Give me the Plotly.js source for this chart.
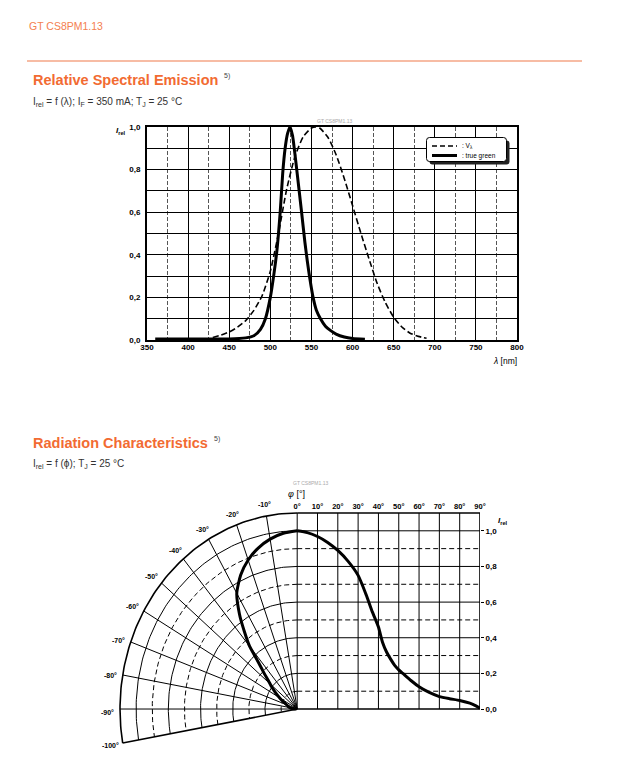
<!DOCTYPE html>
<html><head><meta charset="utf-8">
<script src="https://cdn.plot.ly/plotly-3.0.1.min.js"></script>
<style>body{margin:0;background:#fff}#chart{width:622px;height:763px}</style>
</head><body><div id="chart"></div>
<script>
// ---- Relative spectral emission data ----
const lambdaGreen = [360,400,450,470,480,488,494,500,504,508,512,515,518,521,524,527,530,533,538,542,545,548,552,556,561,567,573,580,590,600,615];
const relGreen    = [0.005,0.005,0.005,0.01,0.02,0.05,0.1,0.2,0.3,0.42,0.6,0.78,0.9,0.97,1.0,0.96,0.87,0.77,0.6,0.46,0.37,0.29,0.2,0.14,0.1,0.065,0.045,0.028,0.014,0.007,0.003];
const lambdaV = [430,440,450,460,470,480,490,500,510,520,530,540,550,555,560,570,580,590,600,610,620,630,640,650,660,670,680,690];
const relV    = [0.0116,0.023,0.038,0.06,0.091,0.139,0.208,0.323,0.503,0.71,0.862,0.954,0.995,1.0,0.995,0.952,0.87,0.757,0.631,0.503,0.381,0.265,0.175,0.107,0.061,0.032,0.017,0.008];
const specXTicks = [350,400,450,500,550,600,650,700,750,800];
const specYTicks = [0,0.2,0.4,0.6,0.8,1.0];
const legendNames = [': V<sub>λ</sub>', ': true green'];

// ---- Radiation characteristics data ----
const phiDeg = [0,5,10,15,20,25,30,34,37,40,42,44,46,48,50,52,56,60,65,70,75,80,85,88,90];
const relPhi = [1.0,0.99,0.968,0.935,0.89,0.83,0.75,0.64,0.545,0.46,0.375,0.32,0.28,0.245,0.22,0.2,0.16,0.125,0.093,0.07,0.058,0.048,0.033,0.018,0.004];
const phiTopTicks = [0,10,20,30,40,50,60,70,80,90];
const phiTopLabels = ['0°','10°','20°','30°','40°','50°','60°','70°','80°','90°'];
const polarAngles = [-10,-20,-30,-40,-50,-60,-70,-80,-90,-100];
const polarLabels = ['-10°','-20°','-30°','-40°','-50°','-60°','-70°','-80°','-90°','-100°'];
const relTicks = [0,0.2,0.4,0.6,0.8,1.0];
const relTickText = ['0,0','0,2','0,4','0,6','0,8','1,0'];

const W = 622, H = 763;
const px = p => p / W, py = p => (H - p) / H;
const ORANGE = '#F26B32';
const K = 79.3;     // horizontal polar scale (x2 units per unit radius)
const ROUT = 1.1;

function pol(r, a) { const t = a * Math.PI / 180; return [K * r * Math.sin(t), r * Math.cos(t)]; }
function arc(r, a0, a1, X, Y) { for (let a = a0; a >= a1; a -= 1) { const p = pol(r, a); X.push(p[0]); Y.push(p[1]); } X.push(null); Y.push(null); }
function seg(x0, y0, x1, y1, X, Y) { X.push(x0, x1, null); Y.push(y0, y1, null); }

const sX = [], sY = [], dX = [], dY = [], bX = [], bY = [];
for (let i = 1; i <= 10; i++) {
  const r = i / 10;
  if (i % 2 === 0) { arc(r, 0, -100, sX, sY); seg(0, r, 90, r, sX, sY); }
  else { arc(r, 0, -100, dX, dY); seg(0, r, 90, r, dX, dY); }
}
polarAngles.slice(0, 9).forEach(a => { const p = pol(ROUT, a); seg(0, 0, p[0], p[1], sX, sY); });
phiTopTicks.slice(0, 9).forEach(v => seg(v, 0, v, ROUT, sX, sY));
arc(ROUT, 0, -100, bX, bY);
{ const p = pol(ROUT, -100); seg(0, 0, p[0], p[1], bX, bY); }
seg(0, ROUT, 90, ROUT, bX, bY);
seg(90, 0, 90, ROUT, bX, bY);
seg(0, 0, 90, 0, bX, bY);

const polX = phiDeg.map((a, i) => pol(relPhi[i], -a)[0]);
const polY = phiDeg.map((a, i) => pol(relPhi[i], -a)[1]);

const FAM = 'Liberation Sans, Arial, sans-serif';
const tickFont = {family: FAM, size: 8, color: '#000', weight: 'bold'};

const traces = [
  {x: lambdaV, y: relV, type: 'scatter', mode: 'lines', name: legendNames[0], line: {color: '#000', width: 1.6, dash: '6px,3px', shape: 'spline', smoothing: 0.6}, xaxis: 'x', yaxis: 'y'},
  {x: lambdaGreen, y: relGreen, type: 'scatter', mode: 'lines', name: legendNames[1], line: {color: '#000', width: 3, shape: 'spline', smoothing: 0.6}, xaxis: 'x', yaxis: 'y'},
  {x: sX, y: sY, type: 'scatter', mode: 'lines', line: {color: '#000', width: 1}, hoverinfo: 'skip', xaxis: 'x2', yaxis: 'y2'},
  {x: dX, y: dY, type: 'scatter', mode: 'lines', line: {color: '#000', width: 1, dash: '5px,3px'}, hoverinfo: 'skip', xaxis: 'x2', yaxis: 'y2'},
  {x: bX, y: bY, type: 'scatter', mode: 'lines', line: {color: '#000', width: 1.6}, hoverinfo: 'skip', xaxis: 'x2', yaxis: 'y2'},
  {x: phiDeg, y: relPhi, type: 'scatter', mode: 'lines', line: {color: '#000', width: 3, shape: 'spline', smoothing: 0.6}, xaxis: 'x2', yaxis: 'y2'},
  {x: polX, y: polY, type: 'scatter', mode: 'lines', line: {color: '#000', width: 3, shape: 'spline', smoothing: 0.6}, xaxis: 'x2', yaxis: 'y2'}
];

const annotations = [
  {text: 'GT CS8PM1.13', x: px(27), y: py(26), xanchor: 'left', yanchor: 'middle', font: {size: 10.5, color: '#F4804F', family: FAM}},
  {text: '<b>Relative Spectral Emission</b>', x: px(31), y: py(80), xanchor: 'left', yanchor: 'middle', font: {size: 14.5, color: ORANGE, family: FAM}},
  {text: '5)', x: px(222), y: py(76), xanchor: 'left', yanchor: 'middle', font: {size: 7, color: '#444', family: FAM}},
  {text: 'I<sub>rel</sub> = f (λ); I<sub>F</sub> = 350 mA; T<sub>J</sub> = 25 °C', x: px(31), y: py(102), xanchor: 'left', yanchor: 'middle', font: {size: 10, color: '#333', family: FAM}},
  {text: '<b>Radiation Characteristics</b>', x: px(31), y: py(443), xanchor: 'left', yanchor: 'middle', font: {size: 14.5, color: ORANGE, family: FAM}},
  {text: '5)', x: px(212), y: py(439), xanchor: 'left', yanchor: 'middle', font: {size: 7, color: '#444', family: FAM}},
  {text: 'I<sub>rel</sub> = f (ϕ); T<sub>J</sub> = 25 °C', x: px(31), y: py(464), xanchor: 'left', yanchor: 'middle', font: {size: 10, color: '#333', family: FAM}},
  {text: 'GT CS8PM1.13', x: px(335), y: py(121), xanchor: 'center', yanchor: 'middle', font: {size: 5, color: '#aaa', family: FAM}},
  {text: 'GT CS8PM1.13', x: px(310), y: py(483), xanchor: 'center', yanchor: 'middle', font: {size: 5, color: '#aaa', family: FAM}},
  {text: '<b><i>I</i></b><sub><b>rel</b></sub>', x: px(121), y: py(131), xanchor: 'center', yanchor: 'middle', font: {size: 8, color: '#000', family: FAM}},
  {text: '<i>λ</i> [nm]', x: px(505), y: py(361), xanchor: 'center', yanchor: 'middle', font: {size: 8.5, color: '#000', family: FAM}},
  {text: '<i>φ</i> [°]', x: px(296), y: py(494), xanchor: 'center', yanchor: 'middle', font: {size: 9, color: '#000', family: FAM}},
  {text: '<b><i>I</i></b><sub><b>rel</b></sub>', x: px(503), y: py(521), xanchor: 'center', yanchor: 'middle', font: {size: 8, color: '#000', family: FAM}},
  {text: legendNames[0], x: px(460), y: py(146), xanchor: 'left', yanchor: 'middle', font: {size: 6.5, color: '#000', family: FAM}},
  {text: legendNames[1], x: px(460), y: py(155.5), xanchor: 'left', yanchor: 'middle', font: {size: 6.5, color: '#000', family: FAM}}
];
polarAngles.forEach((a, i) => {
  const p = pol(1.18, a);
  annotations.push({text: '<b>' + polarLabels[i] + '</b>', x: p[0], y: p[1], xref: 'x2', yref: 'y2', xanchor: 'center', yanchor: 'middle', yshift: a > -95 ? -3 : 0, showarrow: false, font: {size: 7, color: '#000', family: FAM}});
});
annotations.forEach(a => { if (!a.xref) { a.xref = 'paper'; a.yref = 'paper'; a.showarrow = false; } });

function roundRect(x0, y0, x1, y1, r) {
  const P = (x, y) => px(x) + ',' + py(y);
  return 'M' + P(x0 + r, y0) + ' L' + P(x1 - r, y0) + ' Q' + P(x1, y0) + ' ' + P(x1, y0 + r) +
         ' L' + P(x1, y1 - r) + ' Q' + P(x1, y1) + ' ' + P(x1 - r, y1) +
         ' L' + P(x0 + r, y1) + ' Q' + P(x0, y1) + ' ' + P(x0, y1 - r) +
         ' L' + P(x0, y0 + r) + ' Q' + P(x0, y0) + ' ' + P(x0 + r, y0) + ' Z';
}

const layout = {
  width: W, height: H, margin: {l: 0, r: 0, t: 0, b: 0},
  paper_bgcolor: '#fff', plot_bgcolor: 'rgba(0,0,0,0)',
  separators: ',.',
  showlegend: false,
  xaxis: {domain: [px(147), px(517)], range: [350, 800], anchor: 'y', tickvals: specXTicks, showgrid: true, gridcolor: '#000', gridwidth: 1,
          minor: {dtick: 25, tick0: 350, showgrid: true, gridcolor: '#555', gridwidth: 1, griddash: '4px,2px'},
          showline: true, mirror: true, linecolor: '#000', linewidth: 2, ticks: '', zeroline: false, tickfont: tickFont, ticklabelstandoff: -2},
  yaxis: {domain: [py(340), py(127)], range: [0, 1], anchor: 'x', tickvals: specYTicks, tickformat: '.1f', showgrid: true, gridcolor: '#000', gridwidth: 1,
          minor: {dtick: 0.1, tick0: 0, showgrid: true, gridcolor: '#000', gridwidth: 1},
          showline: true, mirror: true, linecolor: '#000', linewidth: 2, ticks: '', zeroline: false, tickfont: tickFont, ticklabelstandoff: 3},
  xaxis2: {domain: [px(90), px(480)], range: [-102, 90], anchor: 'free', position: py(513), side: 'top', tickvals: phiTopTicks, ticktext: phiTopLabels,
           showgrid: false, zeroline: false, showline: false, ticks: '', tickfont: {...tickFont, size: 7.5}, ticklabelstandoff: 3},
  yaxis2: {domain: [py(762.5), py(486.25)], range: [-0.3, 1.25], anchor: 'x2', side: 'right', tickvals: relTicks, ticktext: relTickText,
           showgrid: false, zeroline: false, showline: false, ticks: 'outside', ticklen: 3, tickcolor: '#000', tickwidth: 1, tickfont: tickFont},
  shapes: [
    {type: 'line', xref: 'paper', yref: 'paper', x0: px(27), x1: px(582), y0: py(61), y1: py(61), line: {color: '#F07A4A', width: 1.2}},
    {type: 'path', xref: 'paper', yref: 'paper', path: roundRect(429.5, 140.5, 509.5, 164.5, 3), fillcolor: '#222', line: {width: 0}, layer: 'above'},
    {type: 'path', xref: 'paper', yref: 'paper', path: roundRect(426.5, 137.5, 506.5, 161.5, 3), fillcolor: '#fff', line: {color: '#000', width: 1}, layer: 'above'},
    {type: 'line', xref: 'paper', yref: 'paper', x0: px(432), x1: px(457), y0: py(146), y1: py(146), line: {color: '#000', width: 1.6, dash: '5px,3px'}, layer: 'above'},
    {type: 'line', xref: 'paper', yref: 'paper', x0: px(432), x1: px(457), y0: py(155.5), y1: py(155.5), line: {color: '#000', width: 3}, layer: 'above'}
  ],
  annotations: annotations
};

Plotly.newPlot('chart', traces, layout, {staticPlot: true, displayModeBar: false});
</script>
</body></html>
